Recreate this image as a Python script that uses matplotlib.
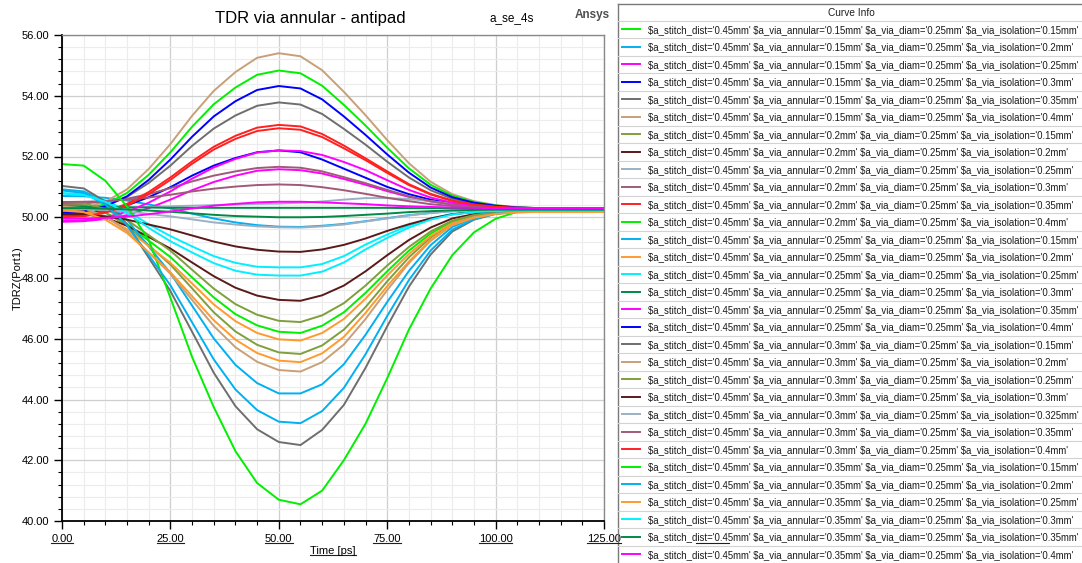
import matplotlib
matplotlib.use("Agg")
import matplotlib.pyplot as plt
from matplotlib.ticker import MultipleLocator, FormatStrFormatter
from matplotlib.lines import Line2D
from matplotlib.transforms import IdentityTransform

plt.rcParams['font.family'] = ['Liberation Sans', 'DejaVu Sans']

# time axis (ps)
time_ps = [0, 5, 10, 15, 20, 25, 30, 35, 40, 45, 50, 55, 60,
           65, 70, 75, 80, 85, 90, 95, 100, 105, 110, 115, 120, 125]

# sweep parameters, in legend order
annular_mm = ['0.15'] * 6 + ['0.2'] * 6 + ['0.25'] * 6 + ['0.3'] * 7 + ['0.35'] * 6
isolation_mm = ['0.15', '0.2', '0.25', '0.3', '0.35', '0.4',
                '0.15', '0.2', '0.25', '0.3', '0.35', '0.4',
                '0.15', '0.2', '0.25', '0.3', '0.35', '0.4',
                '0.15', '0.2', '0.25', '0.3', '0.325', '0.35', '0.4',
                '0.15', '0.2', '0.25', '0.3', '0.35', '0.4']

# TDRZ(Port1) in ohm, one list per curve
z01 = [50.40, 50.36, 50.15, 49.77, 49.23, 48.69, 48.02, 47.36, 46.81, 46.44, 46.23, 46.19, 46.43,
       46.87, 47.51, 48.22, 48.90, 49.46, 49.86, 50.06, 50.16, 50.20, 50.22, 50.22, 50.22, 50.22]
z02 = [50.70, 50.69, 50.64, 50.55, 50.42, 50.29, 50.12, 49.96, 49.83, 49.74, 49.69, 49.68, 49.72,
       49.78, 49.87, 49.97, 50.07, 50.14, 50.20, 50.23, 50.24, 50.25, 50.25, 50.25, 50.25, 50.25]
z03 = [49.85, 49.87, 49.94, 50.07, 50.30, 50.58, 50.89, 51.16, 51.37, 51.53, 51.58, 51.55, 51.44,
       51.26, 51.07, 50.86, 50.67, 50.52, 50.42, 50.36, 50.33, 50.31, 50.30, 50.30, 50.30, 50.30]
z04 = [50.12, 50.14, 50.22, 50.39, 50.66, 50.99, 51.37, 51.70, 51.95, 52.14, 52.20, 52.14, 51.90,
       51.60, 51.30, 51.00, 50.76, 50.58, 50.46, 50.38, 50.34, 50.31, 50.30, 50.30, 50.30, 50.30]
z05 = [50.20, 50.24, 50.38, 50.67, 51.13, 51.70, 52.35, 52.92, 53.35, 53.67, 53.78, 53.71, 53.40,
       52.91, 52.39, 51.83, 51.31, 50.89, 50.61, 50.46, 50.37, 50.32, 50.30, 50.30, 50.30, 50.30]
z06 = [50.25, 50.30, 50.51, 50.92, 51.59, 52.41, 53.34, 54.16, 54.78, 55.25, 55.40, 55.30, 54.84,
       54.13, 53.36, 52.54, 51.78, 51.17, 50.76, 50.53, 50.40, 50.33, 50.30, 50.30, 50.30, 50.30]
z07 = [50.45, 50.40, 50.16, 49.72, 49.08, 48.44, 47.66, 46.87, 46.24, 45.80, 45.55, 45.50, 45.78,
       46.30, 47.04, 47.89, 48.68, 49.33, 49.80, 50.03, 50.15, 50.20, 50.22, 50.22, 50.22, 50.22]
z08 = [50.15, 50.12, 49.98, 49.72, 49.35, 48.97, 48.51, 48.06, 47.68, 47.42, 47.28, 47.25, 47.43,
       47.75, 48.22, 48.75, 49.25, 49.66, 49.96, 50.10, 50.18, 50.21, 50.22, 50.22, 50.22, 50.22]
z09 = [50.30, 50.30, 50.31, 50.32, 50.34, 50.36, 50.38, 50.40, 50.42, 50.44, 50.45, 50.48, 50.52,
       50.58, 50.63, 50.63, 50.60, 50.53, 50.45, 50.38, 50.34, 50.31, 50.30, 50.30, 50.30, 50.30]
z10 = [50.45, 50.46, 50.51, 50.61, 50.76, 50.96, 51.18, 51.37, 51.51, 51.62, 51.66, 51.63, 51.51,
       51.32, 51.12, 50.90, 50.69, 50.53, 50.42, 50.36, 50.33, 50.31, 50.30, 50.30, 50.30, 50.30]
z11 = [50.05, 50.08, 50.20, 50.44, 50.83, 51.31, 51.84, 52.32, 52.68, 52.95, 53.04, 52.99, 52.74,
       52.36, 51.94, 51.51, 51.09, 50.77, 50.55, 50.42, 50.35, 50.31, 50.30, 50.30, 50.30, 50.30]
z12 = [50.20, 50.25, 50.43, 50.80, 51.40, 52.14, 52.98, 53.72, 54.27, 54.69, 54.83, 54.74, 54.33,
       53.70, 53.02, 52.29, 51.61, 51.07, 50.71, 50.50, 50.39, 50.32, 50.30, 50.30, 50.30, 50.30]
z13 = [50.92, 50.85, 50.52, 49.91, 49.04, 48.16, 47.09, 46.01, 45.14, 44.54, 44.20, 44.20, 44.50,
       45.16, 46.13, 47.21, 48.23, 49.08, 49.68, 49.98, 50.13, 50.19, 50.22, 50.22, 50.22, 50.22]
z14 = [50.25, 50.21, 50.00, 49.61, 49.05, 48.50, 47.82, 47.13, 46.58, 46.19, 45.98, 45.94, 46.19,
       46.65, 47.32, 48.08, 48.79, 49.38, 49.80, 50.01, 50.12, 50.16, 50.18, 50.18, 50.18, 50.18]
z15 = [50.80, 50.75, 50.56, 50.21, 49.77, 49.38, 49.04, 48.72, 48.50, 48.37, 48.35, 48.35, 48.46,
       48.72, 49.10, 49.43, 49.73, 49.96, 50.11, 50.17, 50.20, 50.22, 50.22, 50.22, 50.22, 50.22]
z16 = [50.35, 50.35, 50.34, 50.33, 50.32, 50.31, 50.31, 50.31, 50.31, 50.31, 50.31, 50.31, 50.31,
       50.31, 50.31, 50.31, 50.30, 50.30, 50.30, 50.30, 50.30, 50.30, 50.30, 50.30, 50.30, 50.30]
z17 = [49.88, 49.90, 50.00, 50.18, 50.48, 50.85, 51.27, 51.64, 51.92, 52.13, 52.20, 52.18, 52.05,
       51.82, 51.55, 51.22, 50.90, 50.65, 50.48, 50.39, 50.34, 50.31, 50.30, 50.30, 50.30, 50.30]
z18 = [50.15, 50.19, 50.36, 50.69, 51.23, 51.90, 52.65, 53.32, 53.82, 54.19, 54.32, 54.24, 53.88,
       53.32, 52.71, 52.07, 51.47, 50.98, 50.66, 50.48, 50.38, 50.32, 50.30, 50.30, 50.30, 50.30]
z19 = [51.03, 50.95, 50.52, 49.77, 48.67, 47.57, 46.23, 44.88, 43.78, 43.02, 42.60, 42.50, 43.00,
       43.82, 45.04, 46.41, 47.71, 48.77, 49.53, 49.92, 50.11, 50.18, 50.22, 50.22, 50.22, 50.22]
z20 = [50.35, 50.30, 50.03, 49.54, 48.84, 48.14, 47.28, 46.42, 45.72, 45.24, 44.97, 44.92, 45.23,
       45.81, 46.65, 47.60, 48.49, 49.22, 49.75, 50.01, 50.14, 50.19, 50.22, 50.22, 50.22, 50.22]
z21 = [50.50, 50.46, 50.27, 49.91, 49.41, 48.90, 48.27, 47.65, 47.14, 46.79, 46.59, 46.55, 46.77,
       47.17, 47.75, 48.41, 49.02, 49.53, 49.89, 50.07, 50.17, 50.20, 50.22, 50.22, 50.22, 50.22]
z22 = [50.10, 50.09, 50.03, 49.92, 49.76, 49.60, 49.40, 49.20, 49.04, 48.93, 48.87, 48.86, 48.94,
       49.09, 49.30, 49.55, 49.77, 49.96, 50.10, 50.17, 50.20, 50.21, 50.22, 50.22, 50.22, 50.22]
z23 = [50.28, 50.27, 50.24, 50.19, 50.11, 50.03, 49.93, 49.83, 49.76, 49.70, 49.67, 49.66, 49.70,
       49.76, 49.86, 49.96, 50.06, 50.14, 50.20, 50.23, 50.24, 50.25, 50.25, 50.25, 50.25, 50.25]
z24 = [50.50, 50.51, 50.53, 50.58, 50.65, 50.74, 50.85, 50.94, 51.01, 51.06, 51.08, 51.06, 50.99,
       50.89, 50.77, 50.64, 50.53, 50.43, 50.37, 50.34, 50.32, 50.30, 50.30, 50.30, 50.30, 50.30]
z25 = [50.00, 50.03, 50.15, 50.38, 50.76, 51.23, 51.76, 52.23, 52.58, 52.84, 52.93, 52.88, 52.64,
       52.27, 51.88, 51.46, 51.06, 50.75, 50.54, 50.42, 50.35, 50.31, 50.30, 50.30, 50.30, 50.30]
z26 = [51.75, 51.70, 51.20, 50.35, 49.25, 47.35, 45.40, 43.75, 42.30, 41.25, 40.70, 40.55, 41.00,
       42.00, 43.20, 44.70, 46.30, 47.65, 48.75, 49.50, 49.95, 50.18, 50.24, 50.25, 50.25, 50.25]
z27 = [50.88, 50.80, 50.42, 49.74, 48.75, 47.76, 46.54, 45.32, 44.33, 43.65, 43.27, 43.22, 43.62,
       44.38, 45.49, 46.75, 47.93, 48.90, 49.59, 49.94, 50.12, 50.19, 50.22, 50.22, 50.22, 50.22]
z28 = [50.22, 50.17, 49.92, 49.48, 48.84, 48.19, 47.40, 46.61, 45.97, 45.53, 45.28, 45.23, 45.52,
       46.06, 46.85, 47.73, 48.54, 49.25, 49.74, 49.98, 50.11, 50.16, 50.18, 50.18, 50.18, 50.18]
z29 = [50.78, 50.73, 50.51, 50.13, 49.65, 49.21, 48.84, 48.49, 48.24, 48.11, 48.08, 48.08, 48.21,
       48.51, 48.94, 49.32, 49.66, 49.92, 50.09, 50.17, 50.20, 50.22, 50.22, 50.22, 50.22, 50.22]
z30 = [50.30, 50.30, 50.28, 50.26, 50.22, 50.18, 50.13, 50.08, 50.04, 50.02, 50.00, 50.00, 50.01,
       50.04, 50.08, 50.12, 50.17, 50.20, 50.23, 50.24, 50.25, 50.25, 50.25, 50.25, 50.25, 50.25]
z31 = [49.95, 49.96, 49.98, 50.02, 50.10, 50.19, 50.29, 50.38, 50.44, 50.49, 50.51, 50.51, 50.49,
       50.46, 50.43, 50.39, 50.36, 50.34, 50.32, 50.31, 50.30, 50.30, 50.30, 50.30, 50.30, 50.30]

curves = [z01, z02, z03, z04, z05, z06, z07, z08, z09, z10, z11, z12, z13, z14, z15, z16,
          z17, z18, z19, z20, z21, z22, z23, z24, z25, z26, z27, z28, z29, z30, z31]

# Ansys-style trace colours (cycle)
GREEN, LTBLUE, MAGENTA, BLUE, GRAY, TAN = '#00f000', '#00b0f0', '#ff00ff', '#0000ff', '#6e6e6e', '#c8a077'
OLIVE, BROWN, STEEL, MAUVE, RED = '#7f9f3a', '#5a1a1a', '#9ab0c4', '#a05a78', '#ff2020'
ORANGE, CYAN, DKGREEN = '#ff9a2e', '#00f0ff', '#008a45'
colors = [GREEN, LTBLUE, MAGENTA, BLUE, GRAY, TAN,
          OLIVE, BROWN, STEEL, MAUVE, RED, GREEN,
          LTBLUE, ORANGE, CYAN, DKGREEN, MAGENTA, BLUE,
          GRAY, TAN, OLIVE, BROWN, STEEL, MAUVE, RED,
          GREEN, LTBLUE, ORANGE, CYAN, DKGREEN, MAGENTA]

W, H = 1082, 563
fig = plt.figure(figsize=(W / 100, H / 100), dpi=100)
ax = fig.add_axes([62 / W, 42 / H, 542 / W, 486 / H])

for z, c in zip(curves, colors):
    ax.plot(time_ps, z, color=c, lw=1.4, solid_joinstyle='miter')

ax.set_xlim(0, 125)
ax.set_ylim(40, 56)
ax.xaxis.set_major_locator(MultipleLocator(25))
ax.xaxis.set_minor_locator(MultipleLocator(5))
ax.yaxis.set_major_locator(MultipleLocator(2))
ax.yaxis.set_minor_locator(MultipleLocator(0.4))
ax.xaxis.set_major_formatter(FormatStrFormatter('%.2f'))
ax.yaxis.set_major_formatter(FormatStrFormatter('%.2f'))
ax.grid(which='major', color='#cfcfcf', lw=0.9)
ax.grid(which='minor', color='#ececec', lw=0.8)
ax.set_axisbelow(True)
ax.tick_params(which='major', direction='out', length=6, width=1, labelsize=8, pad=3)
ax.tick_params(which='minor', direction='out', length=3, width=0.8)
for s in ['top', 'right']:
    ax.spines[s].set_color('#8a8a8a')
    ax.spines[s].set_linewidth(1)
for s in ['left', 'bottom']:
    ax.spines[s].set_color('black')
    ax.spines[s].set_linewidth(1.3)

fig.text(310 / W, 1 - 18 / H, 'TDR via annular - antipad', ha='center', va='center', fontsize=12)
fig.text(512 / W, 1 - 18 / H, 'a_se_4s', ha='center', va='center', fontsize=8.5)
fig.text(592 / W, 1 - 15 / H, 'Ansys', ha='center', va='center', fontsize=8.5,
         fontweight='bold', color='#505050')
fig.text(18 / W, 1 - 278 / H, 'TDRZ(Port1)', rotation=90, ha='center', va='center', fontsize=8)
xl = fig.text(333 / W, 1 - 551 / H, 'Time [ps]', ha='center', va='center', fontsize=8)

# legend panel ("Curve Info") drawn in pixel coordinates
lax = fig.add_axes([0, 0, 1, 1])
lax.set_xlim(0, W)
lax.set_ylim(H, 0)
lax.axis('off')
lax.plot([617.5, 617.5], [3.5, H], color='#7a7a7a', lw=1)
lax.plot([617.5, W], [3.5, 3.5], color='#7a7a7a', lw=1)
lax.text(851, 13.5, 'Curve Info', ha='center', va='center', fontsize=7.3, color='#202020')
row0, dy = 29.3, 17.5
lax.plot([618, W], [row0 - dy / 2, row0 - dy / 2], color='#d2d2d2', lw=0.8)
for k, (a, iso, c) in enumerate(zip(annular_mm, isolation_mm, colors)):
    yc = row0 + k * dy
    lax.plot([622, 640], [yc, yc], color=c, lw=1.4)
    lbl = ("$a_stitch_dist='0.45mm' $a_via_annular='%smm' "
           "$a_via_diam='0.25mm' $a_via_isolation='%smm'" % (a, iso))
    lax.text(648, yc + 0.5, lbl, ha='left', va='center', fontsize=6.95,
             color='#1a1a1a', parse_math=False)
    lax.plot([618, W], [yc + dy / 2, yc + dy / 2], color='#d2d2d2', lw=0.8)

# underline x tick labels and x label like the original
fig.canvas.draw()
r = fig.canvas.get_renderer()
for t in list(ax.get_xticklabels()) + [xl]:
    if not t.get_text():
        continue
    bb = t.get_window_extent(r)
    fig.add_artist(Line2D([bb.x0, bb.x1], [bb.y0 + 1, bb.y0 + 1], transform=IdentityTransform(),
                          color='#202020', lw=0.8))

fig.savefig('out.png', dpi=100)
